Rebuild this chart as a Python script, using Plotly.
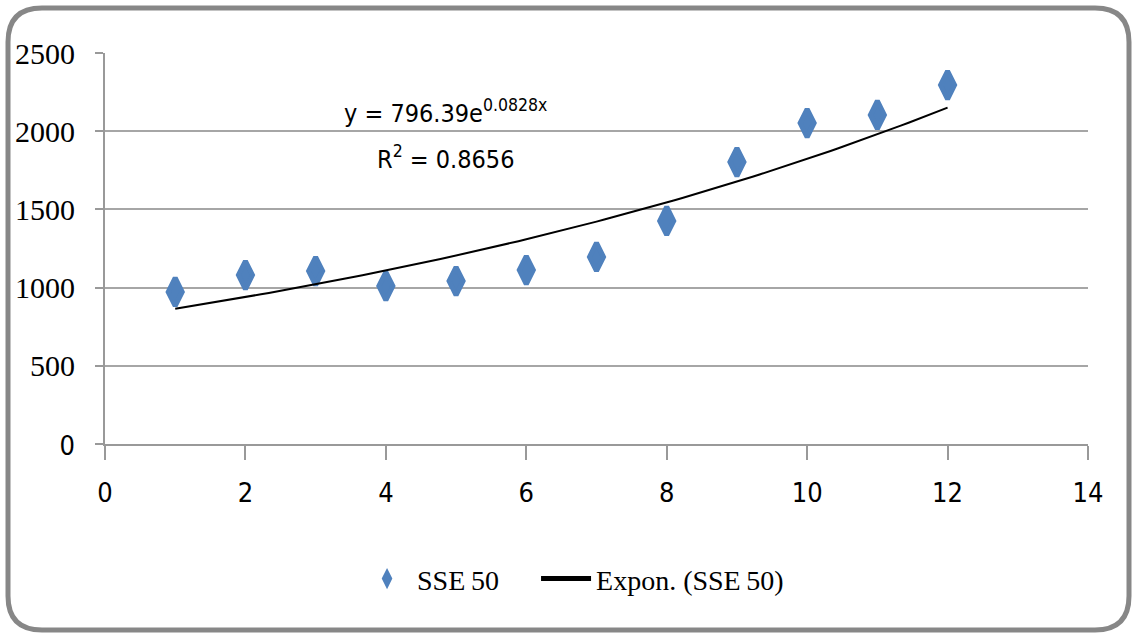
import numpy as np
import plotly.graph_objects as go

# SSE 50 observations
x_vals = [1, 2, 3, 4, 5, 6, 7, 8, 9, 10, 11, 12]
sse50 = [972, 1080, 1106, 1010, 1042, 1112, 1196, 1426, 1803, 2052, 2104, 2295]

# exponential trend fitted to the series: y = A * exp(B * x)
trend_a = 796.39
trend_b = 0.0828
r_squared = 0.8656

y_ticks = [0, 500, 1000, 1500, 2000, 2500]
x_ticks = [0, 2, 4, 6, 8, 10, 12, 14]

W, H = 1135, 636
ML, MR, MT, MB = 105, 47, 53, 192

SERIF = "Liberation Serif"
NARROW = "DejaVu Sans Condensed"

trend_x = np.linspace(min(x_vals), max(x_vals), 100)
trend_y = trend_a * np.exp(trend_b * trend_x)

fig = go.Figure()
fig.add_trace(go.Scatter(
    x=x_vals, y=sse50, mode="markers", name="SSE\u200950", legend="legend",
    marker=dict(symbol="diamond-tall", size=20, color="#4F81BD",
                line=dict(width=5, color="#4F81BD")),
))
fig.add_trace(go.Scatter(
    x=trend_x, y=trend_y, mode="lines", name="Expon. (SSE\u200950)",
    legend="legend2", line=dict(color="black", width=2),
))


def span(txt, family, size):
    return f'<span style="font-family:{family};font-size:{size}px">{txt}</span>'


y_text = [span("0", NARROW, 27) if v == 0 else span(str(v), SERIF, 30)
          for v in y_ticks]
x_text = [span(str(v), NARROW, 27) for v in x_ticks]

legend_style = dict(orientation="h", xanchor="left", y=-0.345, yanchor="middle",
                    font=dict(family=SERIF, size=28, color="black"),
                    itemsizing="constant", itemwidth=50,
                    bgcolor="rgba(0,0,0,0)")

fig.update_layout(
    width=W, height=H,
    margin=dict(l=ML, r=MR, t=MT, b=MB, pad=0),
    paper_bgcolor="white", plot_bgcolor="white",
    showlegend=True,
    legend=dict(x=0.2564, **legend_style),
    legend2=dict(x=0.4385, **legend_style),
    xaxis=dict(range=[0, 14], tickvals=x_ticks, ticktext=x_text,
               showgrid=False, zeroline=False,
               showline=True, linecolor="#999999", linewidth=2,
               ticks="outside", ticklen=14, tickcolor="#999999", tickwidth=2,
               tickfont=dict(family=NARROW, size=27, color="black"),
               ticklabelstandoff=10),
    yaxis=dict(range=[0, 2500], tickvals=y_ticks, ticktext=y_text,
               showgrid=True, gridcolor="#a6a6a6", gridwidth=2, zeroline=False,
               showline=True, linecolor="#999999", linewidth=2,
               ticks="outside", ticklen=8, tickcolor="#999999", tickwidth=2,
               tickfont=dict(family=SERIF, size=30, color="black"),
               ticklabelstandoff=14),
)

# trend equation and R²
fig.add_annotation(x=4.85, y=2123, xref="x", yref="y", showarrow=False,
                   text=f"y = {trend_a}e<sup>{trend_b}x</sup>",
                   font=dict(family=NARROW, size=25, color="black"))
fig.add_annotation(x=4.85, y=1835, xref="x", yref="y", showarrow=False,
                   text=f"R<sup>2</sup> = {r_squared}",
                   font=dict(family=NARROW, size=25, color="black"))

# rounded outer frame
pw = W - ML - MR
ph = H - MT - MB


def px(x):
    return (x - ML) / pw


def py(y):
    return (H - MB - y) / ph


x0, x1, y0, y1, r = 8, 1129, 8, 630, 34
path = (f"M {px(x0 + r)},{py(y0)} L {px(x1 - r)},{py(y0)} "
        f"Q {px(x1)},{py(y0)} {px(x1)},{py(y0 + r)} "
        f"L {px(x1)},{py(y1 - r)} Q {px(x1)},{py(y1)} {px(x1 - r)},{py(y1)} "
        f"L {px(x0 + r)},{py(y1)} Q {px(x0)},{py(y1)} {px(x0)},{py(y1 - r)} "
        f"L {px(x0)},{py(y0 + r)} Q {px(x0)},{py(y0)} {px(x0 + r)},{py(y0)} Z")
fig.add_shape(type="path", xref="paper", yref="paper", path=path,
              line=dict(color="#878787", width=5), layer="below")

fig.write_html("out.html")
